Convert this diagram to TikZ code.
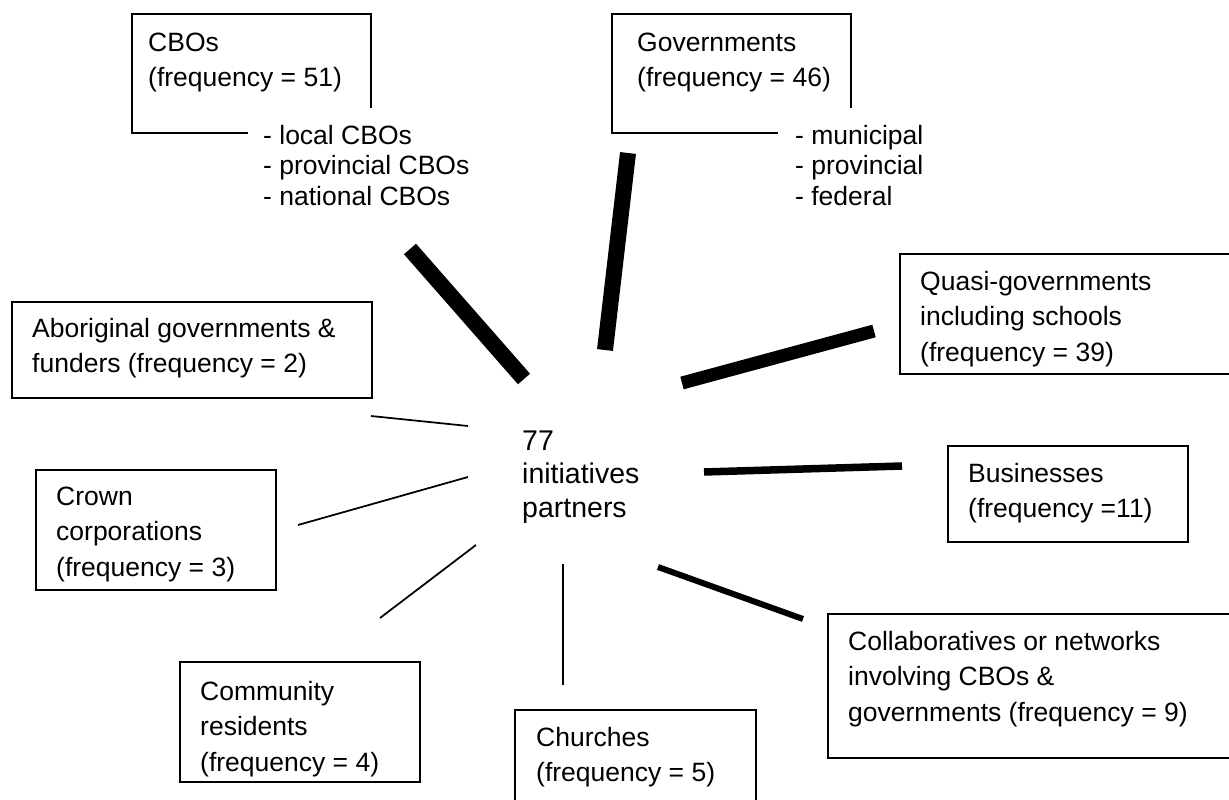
\documentclass[tikz,border=0pt]{standalone}
\usepackage{fontspec}
\setmainfont{Liberation Sans}
\newcommand\fstrut{\rule{0pt}{24pt}}
\begin{document}
\begin{tikzpicture}[x=1pt,y=-1pt,
  box/.style={draw, line width=2pt, rectangle, inner sep=0pt, anchor=north west},
  txt/.style={inner sep=0pt, anchor=north west, align=left, font=\fontsize{26.5}{35.5}\selectfont},
  subitems/.style={fill=white, inner xsep=15pt, inner ysep=12pt, anchor=north west, align=left, font=\fontsize{26.5}{30.5}\selectfont},
  centretxt/.style={inner sep=0pt, anchor=north west, align=left, font=\fontsize{28.5}{33.5}\selectfont},
  thinline/.style={line width=1.75pt},
]
\useasboundingbox (0,0) rectangle (1229,800);

% boxes
\node[box, minimum width=239pt, minimum height=119pt] (cbo) at (131,13) {};
\node[box, minimum width=239pt, minimum height=119pt] (gov) at (611,13) {};
\node[box, minimum width=360pt, minimum height=96pt] (abo) at (11,301) {};
\node[box, minimum width=240pt, minimum height=120pt] (crown) at (35,469) {};
\node[box, minimum width=340pt, minimum height=120pt] (quasi) at (899,253) {};
\node[box, minimum width=240pt, minimum height=96pt] (bus) at (947,445) {};
\node[box, minimum width=410pt, minimum height=144pt] (coll) at (827,613) {};
\node[box, minimum width=241pt, minimum height=100pt] (church) at (514,709) {};
\node[box, minimum width=240pt, minimum height=120pt] (comm) at (179,661) {};

% texts
\node[txt] (cbot) at (148,27) {\fstrut CBOs\\(frequency = 51)};
\node[txt] (govt) at (637,27) {\fstrut Governments\\(frequency = 46)};
\node[subitems] (cbosub) at (248,108) {\fstrut - local CBOs\\- provincial CBOs\\- national CBOs};
\node[subitems, inner xsep=17pt] (govsub) at (778,108) {\fstrut - municipal\\- provincial\\- federal};
\node[txt] (abot) at (32,313) {\fstrut Aboriginal governments \&\\funders (frequency = 2)};
\node[txt] (crownt) at (56,481) {\fstrut Crown\\corporations\\(frequency = 3)};
\node[txt] (quasit) at (920,266) {\fstrut Quasi-governments\\including schools\\(frequency = 39)};
\node[txt] (bust) at (968,458) {\fstrut Businesses\\(frequency =11)};
\node[txt] (collt) at (848,626) {\fstrut Collaboratives or networks\\involving CBOs \&\\governments (frequency = 9)};
\node[txt] (churcht) at (536,722) {\fstrut Churches\\(frequency = 5)};
\node[txt] (commt) at (200,676) {\fstrut Community\\residents\\(frequency = 4)};
\node[centretxt] (centre) at (522,426) {\fstrut 77\\initiatives\\partners};

% connector ends
\coordinate (cboA) at (410,249);   \coordinate (cboB) at (524,379);
\coordinate (govA) at (628,153);   \coordinate (govB) at (605,350);
\coordinate (quaA) at (874,331);   \coordinate (quaB) at (682,383);
\coordinate (busA) at (902,466);   \coordinate (busB) at (704,472);
\coordinate (colA) at (803,619);   \coordinate (colB) at (658,567);
\coordinate (chuA) at (563,685);   \coordinate (chuB) at (563,564);
\coordinate (comA) at (380,618);   \coordinate (comB) at (476,545);
\coordinate (croA) at (298,525);   \coordinate (croB) at (468,477);
\coordinate (aboA) at (371,416);   \coordinate (aboB) at (468,426);

\draw[line width=16pt] (cboA) -- (cboB);
\draw[line width=16pt] (govA) -- (govB);
\draw[line width=13pt] (quaA) -- (quaB);
\draw[line width=7.5pt] (busA) -- (busB);
\draw[line width=6pt] (colA) -- (colB);
\draw[thinline] (chuA) -- (chuB);
\draw[thinline] (comA) -- (comB);
\draw[thinline] (croA) -- (croB);
\draw[thinline] (aboA) -- (aboB);
\end{tikzpicture}
\end{document}
